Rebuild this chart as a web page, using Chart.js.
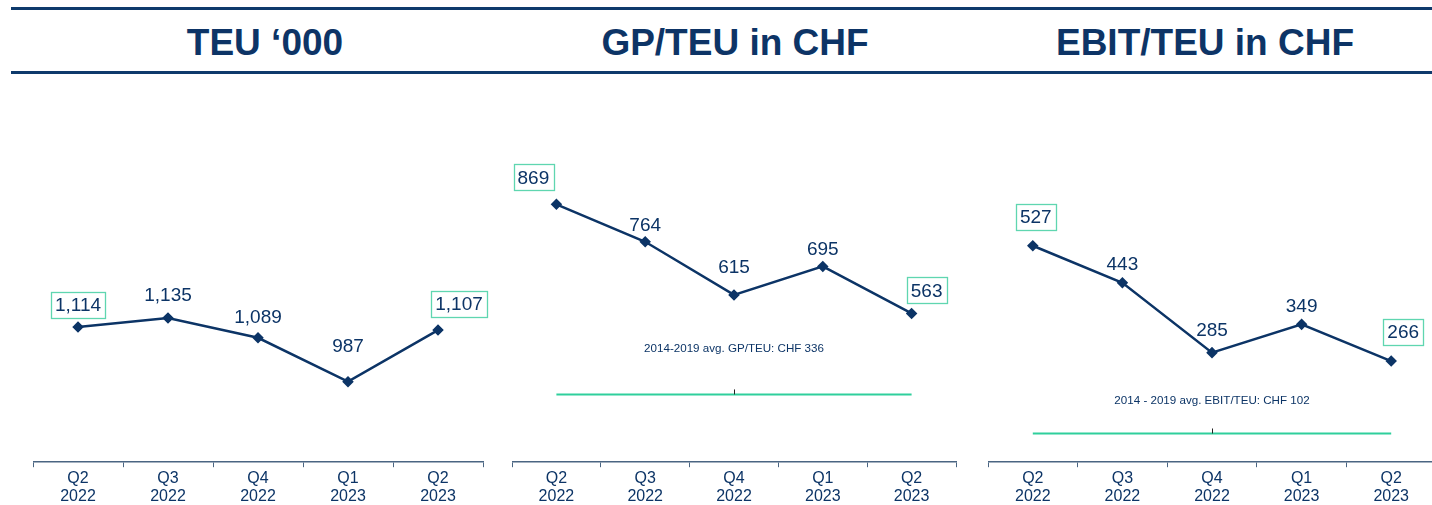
<!DOCTYPE html>
<html><head><meta charset="utf-8">
<script src="https://cdn.jsdelivr.net/npm/chart.js@4"></script>
<style>
html,body{margin:0;padding:0;background:#fff;width:1432px;height:505px;overflow:hidden;font-family:"Liberation Sans",Arial,sans-serif;}
.rule{position:absolute;left:11px;width:1421px;height:3px;background:#0e3a6c;}
.title{position:absolute;top:21px;font-weight:bold;font-size:37px;color:#0d3466;text-align:center;width:470px;line-height:44px;}
.box{position:absolute;top:92px;height:416px;}
</style></head>
<body>
<div class="rule" style="top:7px"></div>
<div class="rule" style="top:71px"></div>
<div class="title" style="left:30px">TEU ‘000</div>
<div class="title" style="left:500px">GP/TEU in CHF</div>
<div class="title" style="left:970px">EBIT/TEU in CHF</div>
<div class="box" style="left:33px;width:462px"><canvas id="c1"></canvas></div>
<div class="box" style="left:512px;width:456px"><canvas id="c2"></canvas></div>
<div class="box" style="left:988px;width:460px"><canvas id="c3"></canvas></div>
<script>
const categories = [["Q2","2022"],["Q3","2022"],["Q4","2022"],["Q1","2023"],["Q2","2023"]];
const teuValues = [1114, 1135, 1089, 987, 1107];
const gpValues = [869, 764, 615, 695, 563];
const ebitValues = [527, 443, 285, 349, 266];
const gpAvg = 336;
const ebitAvg = 102;
const gpAvgText = "2014-2019 avg. GP/TEU: CHF 336";
const ebitAvgText = "2014 - 2019 avg. EBIT/TEU: CHF 102";

const NAVY = "#0c3466";
const GREEN = "#2fcf9c";
const BOXGREEN = "#5fd6b0";
const FONT = '"Liberation Sans", Arial, sans-serif';

function fmt(v){ return v.toLocaleString('en-US'); }

const labelPlugin = {
  id: 'valLabels',
  afterDatasetsDraw(chart, args, opts) {
    const ctx = chart.ctx;
    const meta = chart.getDatasetMeta(0);
    const data = chart.data.datasets[0].data;
    ctx.save();
    ctx.font = '19px ' + FONT;
    ctx.fillStyle = NAVY;
    ctx.textAlign = 'center';
    ctx.textBaseline = 'middle';
    meta.data.forEach((pt, i) => {
      const off = opts.offsets[i];
      const x = pt.x + off[0], y = pt.y + off[1];
      const txt = fmt(data[i]);
      ctx.fillText(txt, x, y + 1);
      if (i === 0 || i === data.length - 1) {
        const w = ctx.measureText(txt).width + 8;
        ctx.strokeStyle = BOXGREEN;
        ctx.lineWidth = 1.3;
        ctx.strokeRect(Math.round(x - w/2) + 0.5, Math.round(y - 13) + 0.5, Math.round(w), 26);
      }
    });
    if (opts.avgText) {
      const ys = chart.scales.y;
      const yA = ys.getPixelForValue(opts.avgValue);
      const xc = (meta.data[0].x + meta.data[meta.data.length-1].x) / 2;
      ctx.font = '11.6px ' + FONT;
      ctx.fillText(opts.avgText, xc, yA + opts.avgTextOffset);
      ctx.strokeStyle = '#222';
      ctx.lineWidth = 1;
      ctx.beginPath();
      ctx.moveTo(Math.round(xc) + 0.5, yA - 5);
      ctx.lineTo(Math.round(xc) + 0.5, yA);
      ctx.stroke();
    }
    ctx.restore();
  }
};

function makeChart(id, values, yMin, yMax, offsets, avgValue, avgText, avgTextOffset) {
  const datasets = [{
    data: values,
    borderColor: NAVY,
    backgroundColor: NAVY,
    borderWidth: 2.5,
    pointStyle: 'rectRot',
    pointRadius: 4,
    pointBackgroundColor: NAVY,
    pointBorderColor: NAVY,
    tension: 0,
    order: 0
  }];
  if (avgValue !== undefined) {
    datasets.push({
      data: values.map(() => avgValue),
      borderColor: GREEN,
      borderWidth: 2,
      pointRadius: 0,
      order: 1
    });
  }
  return new Chart(document.getElementById(id), {
    type: 'line',
    data: { labels: categories, datasets },
    options: {
      responsive: true,
      maintainAspectRatio: false,
      animation: false,
      layout: { padding: { left: 0, top: 0, bottom: 0, right: 12 }, autoPadding: false },
      plugins: {
        legend: { display: false },
        tooltip: { enabled: false },
        valLabels: { offsets, avgValue, avgText, avgTextOffset }
      },
      scales: {
        x: {
          offset: true,
          grid: { offset: true, drawOnChartArea: false, drawTicks: true, tickLength: 5, color: '#4a6582' },
          border: { display: true, color: '#4a6582', width: 1.5 },
          ticks: { color: NAVY, font: { family: FONT, size: 16, lineHeight: 1.15 }, padding: 2, maxRotation: 0, autoSkip: false }
        },
        y: { display: false, min: yMin, max: yMax }
      }
    },
    plugins: [labelPlugin]
  });
}

makeChart('c1', teuValues, 800, 1660,
  [[0,-22],[0,-23],[0,-21],[0,-36],[21,-26]]);
makeChart('c2', gpValues, 146, 1184,
  [[-23,-27],[0,-17],[0,-28],[0,-18],[15,-23]], gpAvg, gpAvgText, -46);
makeChart('c3', ebitValues, 37, 875,
  [[3,-29],[0,-19],[0,-23],[0,-19],[12,-29]], ebitAvg, ebitAvgText, -33);
</script>
</body></html>
